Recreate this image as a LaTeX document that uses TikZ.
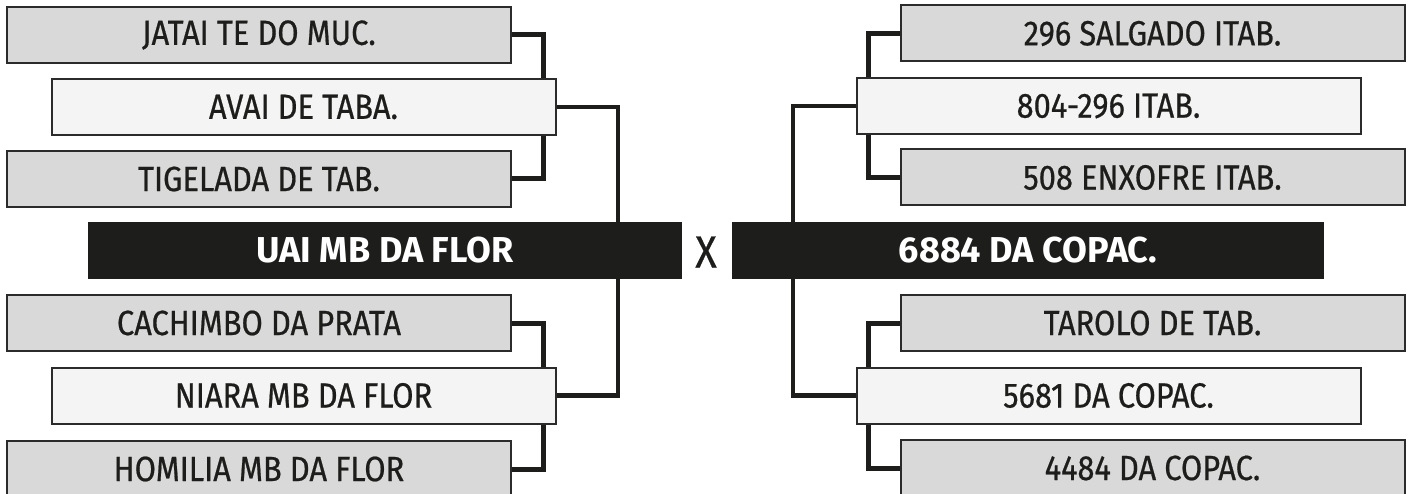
\documentclass[tikz,border=0pt]{standalone}
\usepackage{fontspec}
\setmainfont{Fira Sans}
\newfontfamily\teamfont{Fira Sans}[FakeStretch=0.88,FakeBold=0.6]
\definecolor{boxgray}{HTML}{D9D9D9}
\definecolor{boxlight}{HTML}{F4F4F4}
\definecolor{boxline}{HTML}{2B2B2B}
\definecolor{ink}{HTML}{1D1D1B}
\begin{document}
\begin{tikzpicture}[x=1pt,y=-1pt,
  team/.style={draw=boxline,line width=2pt,fill=boxgray,minimum width=504pt,
    minimum height=56pt,inner sep=0pt,text=ink,font=\fontsize{35}{35}\teamfont},
  semi/.style={team,fill=boxlight},
  final/.style={fill=ink,text=white,minimum width=594pt,minimum height=57pt,
    inner sep=0pt,font=\fontsize{36}{36}\selectfont\bfseries},
  link/.style={draw=ink,line width=5pt},
  mainlink/.style={draw=ink,line width=4.5pt}]
  \useasboundingbox (0,0) rectangle (1410,494);
  \node [team] (jatai) at (259,35) {JATAI TE DO MUC.};
  \node [semi] (avai) at (303.5,107) {AVAI DE TABA.};
  \node [team] (tigelada) at (259,179) {TIGELADA DE TAB.};
  \node [final] (uai) at (385,250.5) {UAI MB DA FLOR};
  \node [team] (cachimbo) at (259,323) {CACHIMBO DA PRATA};
  \node [semi] (niara) at (303.5,395.5) {NIARA MB DA FLOR};
  \node [team] (homilia) at (259,469) {HOMILIA MB DA FLOR};
  \node [text=ink,font=\fontsize{45}{45}\teamfont] (versus) at (706,252) {X};
  \node [team] (salgado) at (1152.5,33.5) {296 SALGADO ITAB.};
  \node [semi] (itab) at (1108.5,106) {804-296 ITAB.};
  \node [team] (enxofre) at (1152.5,177.5) {508 ENXOFRE ITAB.};
  \node [final,minimum width=592pt] (copac) at (1028,250.5) {6884 DA COPAC.};
  \node [team] (tarolo) at (1152.5,323) {TAROLO DE TAB.};
  \node [semi] (copacb) at (1108.5,395.5) {5681 DA COPAC.};
  \node [team] (copacc) at (1152.5,468) {4484 DA COPAC.};
  \draw [link] (jatai.east) -| ([xshift=-13pt]avai.north east);
  \draw [link] (tigelada.east) -| ([xshift=-13pt]avai.south east);
  \draw [link] (cachimbo.east) -| ([xshift=-13pt]niara.north east);
  \draw [link] (homilia.east) -| ([xshift=-13pt]niara.south east);
  \draw [mainlink] (avai.east) -| ([xshift=-64pt]uai.north east);
  \draw [mainlink] (niara.east) -| ([xshift=-64pt]uai.south east);
  \draw [link] (salgado.west) -| ([xshift=13pt]itab.north west);
  \draw [link] (enxofre.west) -| ([xshift=13pt]itab.south west);
  \draw [link] (tarolo.west) -| ([xshift=13pt]copacb.north west);
  \draw [link] (copacc.west) -| ([xshift=13pt]copacb.south west);
  \draw [mainlink] (itab.west) -| ([xshift=61pt]copac.north west);
  \draw [mainlink] (copacb.west) -| ([xshift=61pt]copac.south west);
\end{tikzpicture}
\end{document}
